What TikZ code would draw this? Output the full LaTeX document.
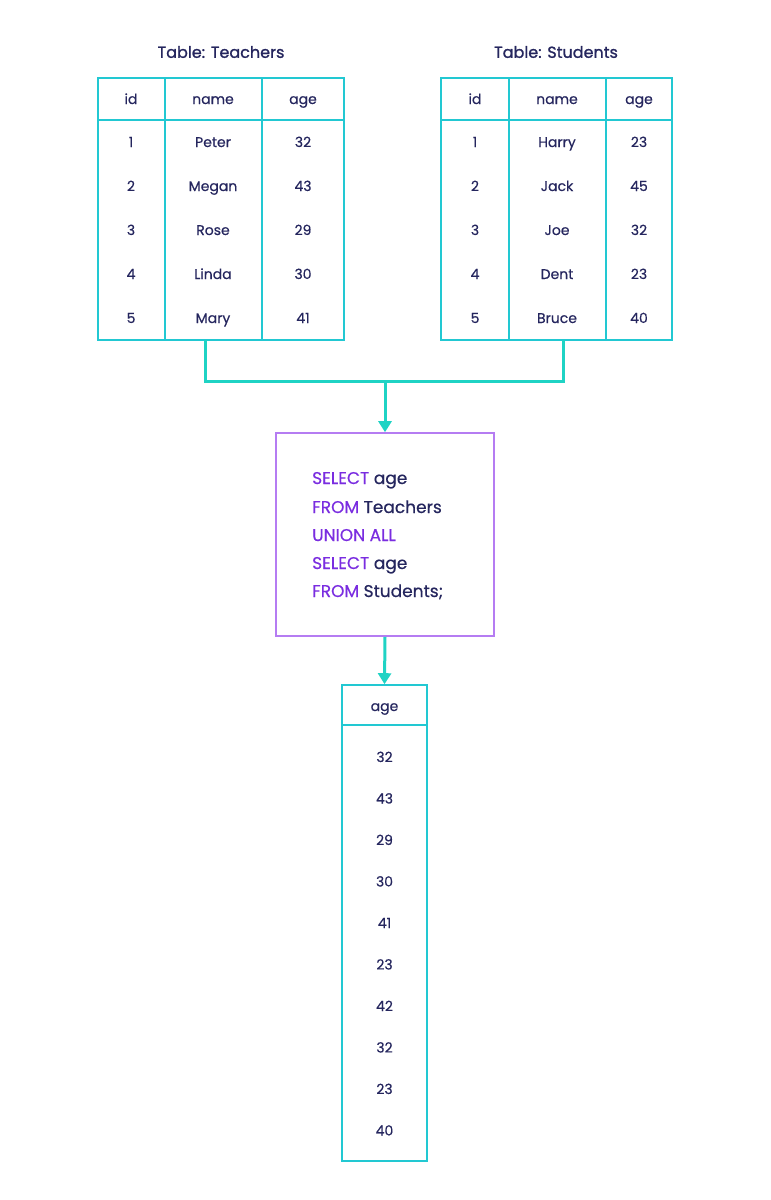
\documentclass[tikz,border=0pt]{standalone}
\usepackage{fontspec}
\setmainfont{Poppins}
\newfontfamily\med{Poppins}[FakeBold=0.5]
\newfontfamily\semi{Poppins}[FakeBold=1.2]
\usetikzlibrary{arrows.meta}
\definecolor{tl}{HTML}{22C8D2}
\definecolor{ar}{HTML}{1FD3C4}
\definecolor{pu}{HTML}{B57CF2}
\definecolor{kw}{HTML}{7A2DE0}
\definecolor{tx}{HTML}{25265E}
\begin{document}
\begin{tikzpicture}[x=1pt,y=-1pt,
  cell/.style={text=tx,font=\fontsize{14}{14}\selectfont\med,text height=10pt,text depth=0pt,inner sep=0pt},
  ttl/.style={text=tx,font=\fontsize{16}{16}\selectfont\semi},
  tab/.style={draw=tl,line width=1.6pt},
  conn/.style={draw=ar,line width=3pt},
  arr/.style={conn,-{Triangle[length=11pt,width=13pt]}},
  sq/.style={anchor=west,text=tx,font=\fontsize{17}{17}\selectfont\med,text height=12pt,text depth=0pt,inner sep=0pt}]
\useasboundingbox (0,0) rectangle (771,1200);
% Teachers
\node[ttl] (t1) at (221,52) {Table: Teachers};
\draw[tab] (98,78) rectangle (344,340);
\draw[tab] (98,120) -- (344,120) (165,78) -- (165,340) (262,78) -- (262,340);
\node[cell] at (131,99) {id};\node[cell] at (213,99) {name};\node[cell] at (303,99) {age};
\foreach \i/\n/\a [count=\k] in {1/Peter/32,2/Megan/43,3/Rose/29,4/Linda/30,5/Mary/41}{
  \node[cell] at (131,98+44*\k) {\i};\node[cell] at (213,98+44*\k) {\n};\node[cell] at (303,98+44*\k) {\a};}
% Students
\node[ttl] (s1) at (556,52) {Table: Students};
\draw[tab] (441,78) rectangle (672,340);
\draw[tab] (441,120) -- (672,120) (509,78) -- (509,340) (606,78) -- (606,340);
\node[cell] at (475,99) {id};\node[cell] at (557,99) {name};\node[cell] at (639,99) {age};
\foreach \i/\n/\a [count=\k] in {1/Harry/23,2/Jack/45,3/Joe/32,4/Dent/23,5/Bruce/40}{
  \node[cell] at (475,98+44*\k) {\i};\node[cell] at (557,98+44*\k) {\n};\node[cell] at (639,98+44*\k) {\a};}
% connectors
\coordinate (ta) at (205,340);\coordinate (sa) at (563,340);\coordinate (j) at (385,381);
\draw[conn,line join=miter] (ta) |- (j) -| (sa);
% SQL box
\node[draw=pu,line width=1.6pt,minimum width=218pt,minimum height=203pt] (q) at (385,534.5) {};
\draw[arr] (j) -- (q.north);
\node[sq] at (312,478) {\textcolor{kw}{SELECT} age};
\node[sq] at (312,507) {\textcolor{kw}{FROM} Teachers};
\node[sq] at (312,535) {\textcolor{kw}{UNION ALL}};
\node[sq] at (312,563) {\textcolor{kw}{SELECT} age};
\node[sq] at (312,591) {\textcolor{kw}{FROM} Students;};
% result
\node[tab,minimum width=85pt,minimum height=476pt,inner sep=0pt] (r) at (384.5,923) {};
\draw[tab] (342,725) -- (427,725);
\draw[arr] (q.south) -- (r.north);
\node[cell] at (384.5,706) {age};
\foreach \a [count=\k] in {32,43,29,30,41,23,42,32,23,40}{
  \node[cell] at (384.5,715.5+41.5*\k) {\a};}
\end{tikzpicture}
\end{document}
